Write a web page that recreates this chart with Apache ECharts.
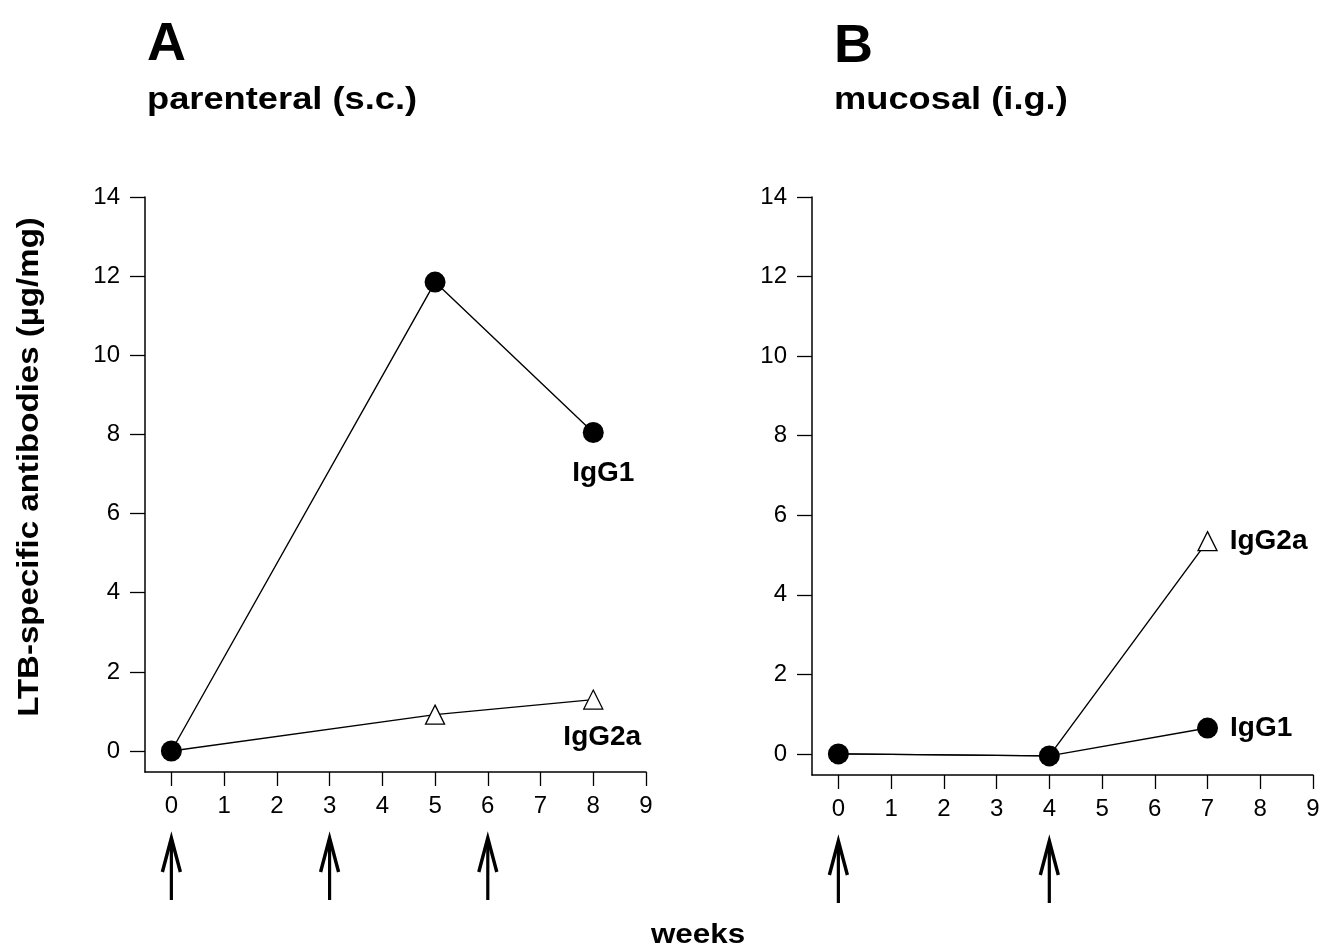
<!DOCTYPE html>
<html>
<head>
<meta charset="utf-8">
<script src="https://cdn.jsdelivr.net/npm/echarts@6/dist/echarts.min.js"></script>
<style>
html,body{margin:0;padding:0;background:#fff;}
#c{width:1327px;height:946px;}
</style>
</head>
<body>
<div id="c"></div>
<script>
// ---- data ----
const weekTicks = [0,1,2,3,4,5,6,7,8,9];
const yTicks = [0,2,4,6,8,10,12,14];

const weeksA = [0, 5, 8];
const igg1A = [0, 11.85, 8.05];
const igg2aA = [0, 0.92, 1.3];
const boostA = [0, 3, 6];

const weeksB = [0, 4, 7];
const igg1B = [0, -0.05, 0.65];
const igg2aB = [0, -0.05, 5.35];
const boostB = [0, 4];

const Y_MIN = -0.53, Y_MAX = 14, X_MIN = -0.5, X_MAX = 9;
const FONT = 'Liberation Sans, Arial, Helvetica, sans-serif';

const chart = echarts.init(document.getElementById('c'), null, {renderer:'canvas'});

function xAxis(gi){
  return {
    type:'value', gridIndex:gi, min:X_MIN, max:X_MAX,
    axisLine:{show:true, onZero:false, lineStyle:{color:'#000', width:1.5}},
    axisTick:{show:true, customValues:weekTicks, length:14, lineStyle:{color:'#000', width:1.3}},
    axisLabel:{customValues:weekTicks, color:'#000', fontSize:24, fontFamily:FONT, margin:22},
    splitLine:{show:false}
  };
}
function yAxis(gi){
  return {
    type:'value', gridIndex:gi, min:Y_MIN, max:Y_MAX,
    axisLine:{show:true, onZero:false, lineStyle:{color:'#000', width:1.5}},
    axisTick:{show:true, customValues:yTicks, length:15, lineStyle:{color:'#000', width:1.3}},
    axisLabel:{customValues:yTicks, color:'#000', fontSize:24, fontFamily:FONT, margin:25},
    splitLine:{show:false}
  };
}

// a triangle that sits under a filled circle is hidden (the circle covers it in the figure)
function lineSeries(gi, xs, ys, sym, name, labelPos, labelOffset, z, coverYs){
  const data = xs.map((x,i)=>{
    const d = {value:[x, ys[i]]};
    if(coverYs && coverYs[i] === ys[i]) d.symbol = 'none';
    if(i === xs.length-1){
      d.label = {show:true, formatter:name, position:labelPos, distance:12, offset:labelOffset,
        color:'#000', fontSize:28, fontWeight:'bold', fontFamily:FONT};
    }
    return d;
  });
  const isCircle = sym === 'circle';
  return {
    type:'line', xAxisIndex:gi, yAxisIndex:gi, data:data, z:z,
    symbol:sym, symbolSize:isCircle?21:19,
    showAllSymbol:true,
    lineStyle:{color:'#000', width:1.4},
    itemStyle:{color:isCircle?'#000':'#fff', borderColor:'#000', borderWidth:isCircle?0:1.3, opacity:1},
    emphasis:{disabled:true},
    animation:false
  };
}

function arrowSeries(gi, weeks){
  return {
    type:'custom', xAxisIndex:gi, yAxisIndex:gi, clip:false, animation:false, silent:true,
    data: weeks.map(w=>[w, Y_MIN]),
    renderItem: function(params, api){
      const p = api.coord([api.value(0), api.value(1)]);
      const x = p[0], base = p[1];
      const tip = base + 66, end = base + 128;
      return {
        type:'group',
        children:[
          {type:'line', shape:{x1:x, y1:tip+3, x2:x, y2:end}, style:{stroke:'#000', lineWidth:3.2}},
          {type:'polyline', shape:{points:[[x-9, tip+34],[x, tip],[x+9, tip+34]]}, style:{stroke:'#000', lineWidth:3.4, fill:null, lineJoin:'miter'}}
        ]
      };
    }
  };
}

const option = {
  backgroundColor:'#fff',
  animation:false,
  grid:[
    {left:145, top:197, width:501, height:575},
    {left:812, top:197, width:501, height:578}
  ],
  xAxis:[xAxis(0), xAxis(1)],
  yAxis:[yAxis(0), yAxis(1)],
  series:[
    lineSeries(0, weeksA, igg2aA, 'triangle', 'IgG2a', 'bottom', [9, 2], 2, igg1A),
    lineSeries(0, weeksA, igg1A, 'circle', 'IgG1', 'bottom', [10, 4], 3),
    lineSeries(1, weeksB, igg2aB, 'triangle', 'IgG2a', 'right', [0, 0], 2, igg1B),
    lineSeries(1, weeksB, igg1B, 'circle', 'IgG1', 'right', [0, 0], 3),
    arrowSeries(0, boostA),
    arrowSeries(1, boostB)
  ],
  graphic:[
    {type:'text', left:147, top:18, style:{text:'A', fontSize:54, fontWeight:'bold', fontFamily:FONT, fill:'#000'}},
    {type:'text', x:147, y:100, scaleX:1.17, style:{text:'parenteral (s.c.)', fontSize:31, fontWeight:'bold', fontFamily:FONT, fill:'#000', verticalAlign:'middle'}},
    {type:'text', left:834, top:20, style:{text:'B', fontSize:54, fontWeight:'bold', fontFamily:FONT, fill:'#000'}},
    {type:'text', x:834, y:100, scaleX:1.17, style:{text:'mucosal (i.g.)', fontSize:31, fontWeight:'bold', fontFamily:FONT, fill:'#000', verticalAlign:'middle'}},
    {type:'text', x:30, y:467, rotation:Math.PI/2, scaleX:1.14, style:{text:'LTB-specific antibodies (\u00B5g/mg)', fontSize:29, fontWeight:'bold', fontFamily:FONT, fill:'#000', align:'center', verticalAlign:'middle'}},
    {type:'text', x:698, y:935, scaleX:1.12, style:{text:'weeks', fontSize:28, fontWeight:'bold', fontFamily:FONT, fill:'#000', align:'center', verticalAlign:'middle'}}
  ]
};
chart.setOption(option);
</script>
</body>
</html>
